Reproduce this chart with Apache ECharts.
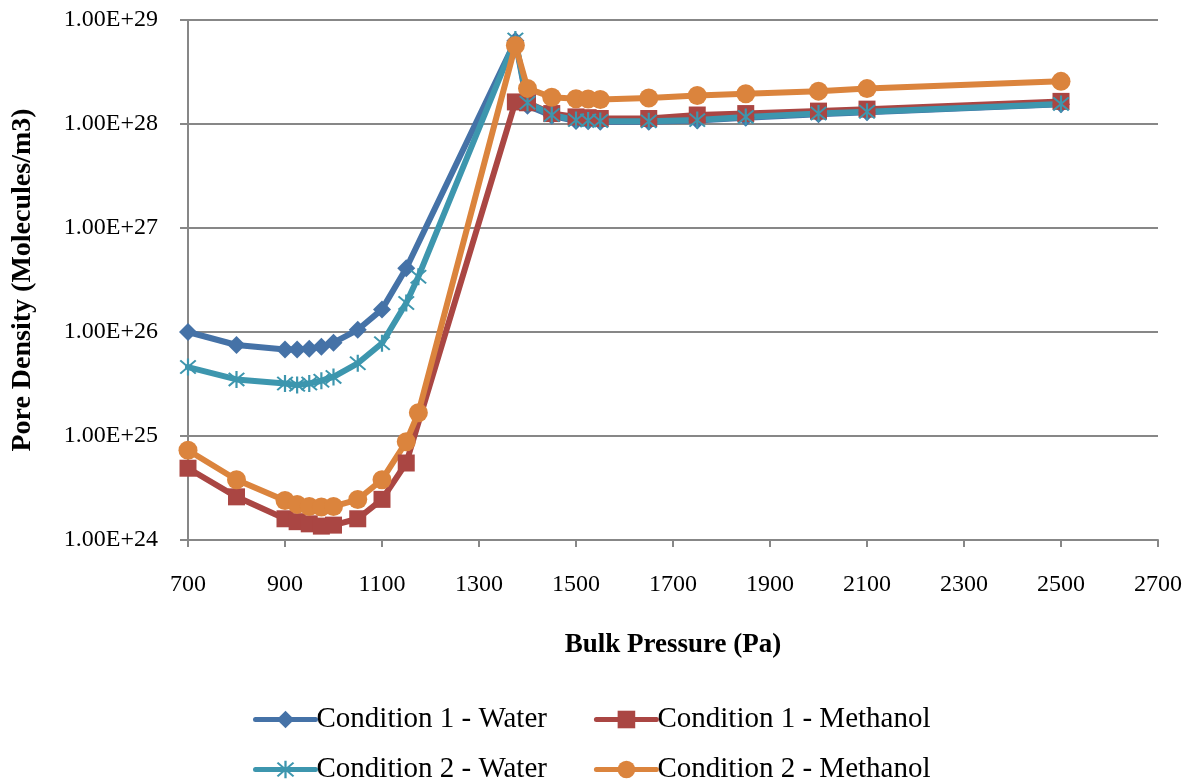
<!DOCTYPE html>
<html>
<head>
<meta charset="utf-8">
<script src="https://cdn.jsdelivr.net/npm/echarts@6/dist/echarts.min.js"></script>
<style>
  html, body { margin: 0; padding: 0; background: #fff; }
  #chart { width: 1193px; height: 782px; }
</style>
</head>
<body>
<div id="chart"></div>
<script>
// bulk pressure (Pa) for condition 1 series
var pressure1 = [700, 800, 900, 925, 950, 975, 1000, 1050, 1100, 1150, 1375, 1400, 1450, 1500, 1525, 1550, 1650, 1750, 1850, 2000, 2100, 2500];
// bulk pressure (Pa) for condition 2 series (extra point at 1175)
var pressure2 = [700, 800, 900, 925, 950, 975, 1000, 1050, 1100, 1150, 1175, 1375, 1400, 1450, 1500, 1525, 1550, 1650, 1750, 1850, 2000, 2100, 2500];

// pore density (molecules/m3)
var water1 = [1.0e26, 7.5e25, 6.8e25, 6.8e25, 6.9e25, 7.2e25, 7.9e25, 1.05e26, 1.65e26, 4.1e26, 6.3e28, 1.5e28, 1.2e28, 1.07e28, 1.06e28, 1.05e28, 1.05e28, 1.08e28, 1.15e28, 1.24e28, 1.3e28, 1.55e28];
var methanol1 = [4.9e24, 2.6e24, 1.6e24, 1.5e24, 1.43e24, 1.36e24, 1.39e24, 1.6e24, 2.46e24, 5.5e24, 1.63e28, 1.6e28, 1.26e28, 1.17e28, 1.15e28, 1.13e28, 1.13e28, 1.22e28, 1.26e28, 1.33e28, 1.39e28, 1.65e28];
var water2 = [4.6e25, 3.5e25, 3.2e25, 3.1e25, 3.2e25, 3.4e25, 3.7e25, 5.0e25, 7.8e25, 1.9e26, 3.4e26, 6.5e28, 1.6e28, 1.22e28, 1.09e28, 1.08e28, 1.07e28, 1.06e28, 1.09e28, 1.17e28, 1.26e28, 1.31e28, 1.56e28];
var methanol2 = [7.3e24, 3.8e24, 2.4e24, 2.2e24, 2.1e24, 2.08e24, 2.1e24, 2.45e24, 3.8e24, 8.8e24, 1.67e25, 5.7e28, 2.2e28, 1.81e28, 1.75e28, 1.74e28, 1.72e28, 1.78e28, 1.88e28, 1.95e28, 2.07e28, 2.19e28, 2.57e28];

var seriesNames = ['Condition 1 - Water', 'Condition 1 - Methanol', 'Condition 2 - Water', 'Condition 2 - Methanol'];

// asterisk marker (vertical bar + two diagonals)
var asterisk = 'path://M8.9 0L11.1 0L11.1 20L8.9 20Z M1.5 3L3 1.5L18.5 17L17 18.5Z M17 1.5L18.5 3L3 18.5L1.5 17Z';

var FONT = 'Liberation Serif';

function pairs(xs, ys) {
    var out = [];
    for (var i = 0; i < xs.length; i++) {
        out.push([xs[i], ys[i]]);
    }
    return out;
}

function makeSeries(name, xs, ys, color, symbol, size) {
    return {
        name: name,
        type: 'line',
        data: pairs(xs, ys),
        smooth: false,
        symbol: symbol,
        symbolSize: size,
        color: color,
        lineStyle: { color: color, width: 6, join: 'round', cap: 'round' },
        itemStyle: { color: color },
        emphasis: { disabled: true }
    };
}

function legendRow(names, top) {
    return {
        data: names,
        left: 253,
        top: top,
        padding: 0,
        itemWidth: 60,
        itemHeight: 22,
        itemGap: 47,
        lineStyle: { width: 5 },
        textStyle: { fontFamily: FONT, fontSize: 29, color: '#000', padding: [0, 0, 0, -4] }
    };
}

var chart = echarts.init(document.getElementById('chart'));

var option = {
    animation: false,
    textStyle: { fontFamily: FONT },
    grid: {
        left: 188,
        right: 35,
        top: 20,
        bottom: 242
    },
    legend: [
        legendRow([seriesNames[0], seriesNames[1]], 705),
        legendRow([seriesNames[2], seriesNames[3]], 755)
    ],
    xAxis: {
        type: 'value',
        min: 700,
        max: 2700,
        interval: 200,
        name: 'Bulk Pressure (Pa)',
        nameLocation: 'middle',
        nameGap: 92,
        nameTextStyle: { fontFamily: FONT, fontSize: 27, fontWeight: 'bold', color: '#000' },
        axisLine: { show: true, lineStyle: { color: '#878787', width: 2 } },
        axisTick: { show: true, length: 7, lineStyle: { color: '#878787', width: 2 } },
        axisLabel: {
            margin: 33,
            fontFamily: FONT,
            fontSize: 24,
            color: '#000',
            formatter: function (v) { return String(v); }
        },
        splitLine: { show: false }
    },
    yAxis: {
        type: 'log',
        logBase: 10,
        min: 1e24,
        max: 1e29,
        name: 'Pore Density (Molecules/m3)',
        nameLocation: 'middle',
        nameRotate: 90,
        nameGap: 151,
        nameTextStyle: { fontFamily: FONT, fontSize: 28, fontWeight: 'bold', color: '#000' },
        axisLine: { show: true, lineStyle: { color: '#878787', width: 2 } },
        axisTick: { show: true, length: 8, lineStyle: { color: '#878787', width: 2 } },
        axisLabel: {
            margin: 30,
            fontFamily: FONT,
            fontSize: 24,
            color: '#000',
            formatter: function (v) {
                return v.toExponential(2).toUpperCase();
            }
        },
        splitLine: { show: true, lineStyle: { color: '#878787', width: 2 } }
    },
    series: [
        makeSeries(seriesNames[0], pressure1, water1, '#4572A7', 'diamond', 18),
        makeSeries(seriesNames[1], pressure1, methanol1, '#AA4643', 'rect', 17),
        makeSeries(seriesNames[2], pressure2, water2, '#3D96AE', asterisk, 17),
        makeSeries(seriesNames[3], pressure2, methanol2, '#DB843D', 'circle', 19)
    ]
};

chart.setOption(option);
</script>
</body>
</html>
